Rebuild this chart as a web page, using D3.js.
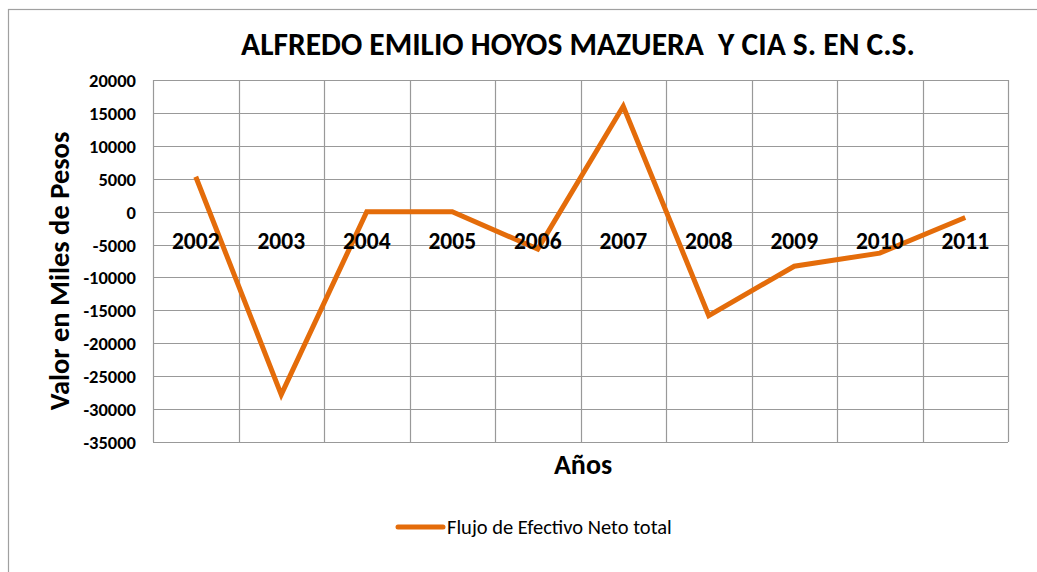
<!DOCTYPE html>
<html>
<head>
<meta charset="utf-8">
<script src="https://cdn.jsdelivr.net/npm/d3@7"></script>
<style>
  body { margin: 0; background: #fff; }
  svg { font-family: Carlito, Lato, "Open Sans", sans-serif; }
</style>
</head>
<body>
<svg width="1037" height="572"></svg>
<script>
// Chart data.
let years = ["2002", "2003", "2004", "2005", "2006", "2007", "2008", "2009", "2010", "2011"];
let flujo = [5300, -27800, 0, 0, -5700, 16000, -15800, -8300, -6300, -900];
let y_ticks = [20000, 15000, 10000, 5000, 0, -5000, -10000, -15000, -20000, -25000, -30000, -35000];

let title_text = "ALFREDO EMILIO HOYOS MAZUERA  Y CIA S. EN C.S.";
let series_name = "Flujo de Efectivo Neto total";

let svg = d3.select("svg");

// Plot area.
let plot_left = 153, plot_right = 1008, plot_top = 80, plot_bottom = 442;

// Outer chart border.
svg.append("rect")
    .attr("x", 8.5).attr("y", 9.5)
    .attr("width", 1040).attr("height", 580)
    .attr("fill", "none").attr("stroke", "#a0a0a0").attr("stroke-width", 1.2);

let x = d3.scaleBand().domain(years).range([plot_left, plot_right]);
let y = d3.scaleLinear().domain([-35000, 20000]).range([plot_bottom, plot_top]);

// Horizontal gridlines.
svg.append("g").selectAll("line").data(y_ticks).join("line")
    .attr("x1", plot_left).attr("x2", plot_right)
    .attr("y1", d => Math.round(y(d)) + 0.5).attr("y2", d => Math.round(y(d)) + 0.5)
    .attr("stroke", "#999").attr("stroke-width", 1.2);

// Vertical gridlines at category boundaries.
let bounds = years.map(d => x(d)).concat([plot_right]);
svg.append("g").selectAll("line").data(bounds).join("line")
    .attr("x1", d => Math.round(d) + 0.5).attr("x2", d => Math.round(d) + 0.5)
    .attr("y1", plot_top).attr("y2", plot_bottom)
    .attr("stroke", "#999").attr("stroke-width", 1.2);

// Y tick labels.
svg.append("g").selectAll("text").data(y_ticks).join("text")
    .attr("x", 136).attr("y", d => y(d) + 7)
    .attr("text-anchor", "end")
    .attr("font-size", 18.5).attr("font-weight", "bold")
    .text(d => d);

// Series line.
let line = d3.line()
    .x((d, i) => x(years[i]) + x.bandwidth() / 2)
    .y(d => y(d));

svg.append("path")
    .datum(flujo)
    .attr("d", line)
    .attr("fill", "none")
    .attr("stroke", "#E46C0A")
    .attr("stroke-width", 5)
    .attr("stroke-linejoin", "miter");

// Category labels sitting just below the zero line.
svg.append("g").selectAll("text").data(years).join("text")
    .attr("x", d => x(d) + x.bandwidth() / 2)
    .attr("y", y(0) + 37.5)
    .attr("text-anchor", "middle")
    .attr("font-size", 23.5).attr("font-weight", "bold")
    .text(d => d);

// Title.
svg.append("text")
    .attr("x", 578).attr("y", 55)
    .attr("text-anchor", "middle")
    .attr("font-size", 31.5).attr("font-weight", "bold")
    .attr("xml:space", "preserve")
    .text(title_text);

// Axis titles.
svg.append("text")
    .attr("transform", "translate(69,271) rotate(-90)")
    .attr("text-anchor", "middle")
    .attr("font-size", 28.5).attr("font-weight", "bold")
    .text("Valor en Miles de Pesos");

svg.append("text")
    .attr("x", 583).attr("y", 474)
    .attr("text-anchor", "middle")
    .attr("font-size", 28).attr("font-weight", "bold")
    .text("Años");

// Legend.
svg.append("line")
    .attr("x1", 398).attr("x2", 443)
    .attr("y1", 527).attr("y2", 527)
    .attr("stroke", "#E46C0A").attr("stroke-width", 5)
    .attr("stroke-linecap", "round");

svg.append("text")
    .attr("x", 447).attr("y", 534)
    .attr("font-size", 20.5)
    .text(series_name);
</script>
</body>
</html>
